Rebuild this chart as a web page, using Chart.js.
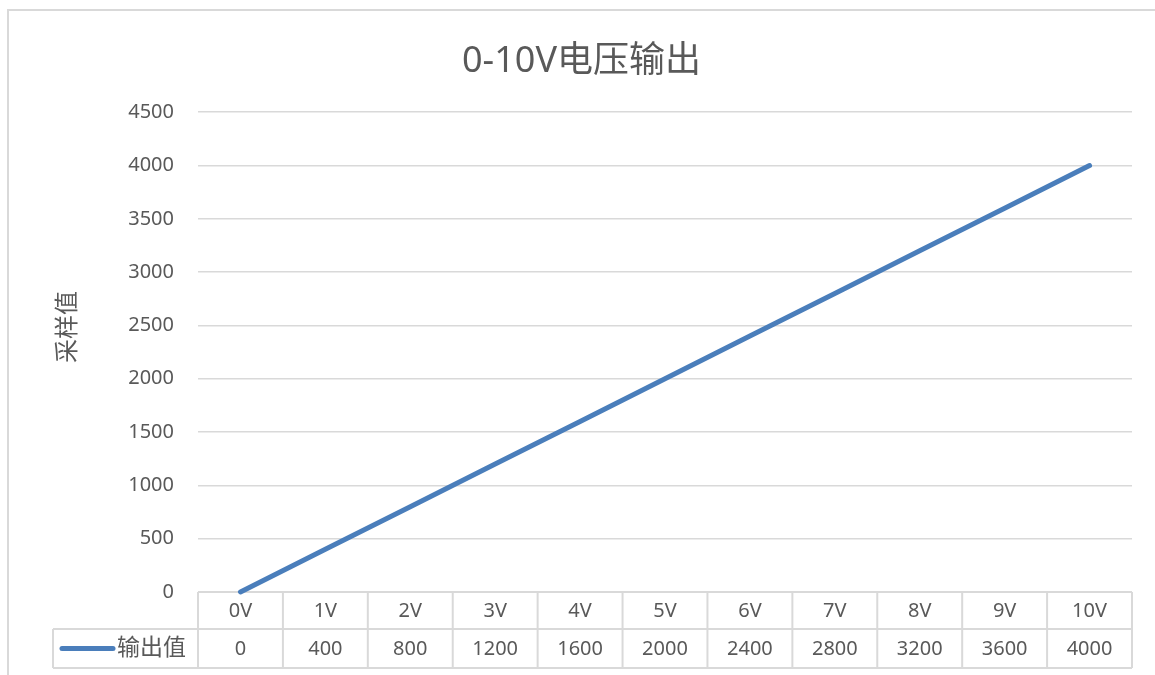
<!DOCTYPE html>
<html>
<head>
<meta charset="utf-8">
<script src="https://cdn.jsdelivr.net/npm/chart.js@4"></script>
<style>
  html, body { margin: 0; padding: 0; background: #ffffff; }
  #wrap { width: 1155px; height: 675px; }
</style>
</head>
<body>
<div id="wrap"><canvas id="chart" width="1155" height="675"></canvas></div>
<script>
// Input voltage steps and the sampled output for each
const categories = ['0V', '1V', '2V', '3V', '4V', '5V', '6V', '7V', '8V', '9V', '10V'];
const outputValues = [0, 400, 800, 1200, 1600, 2000, 2400, 2800, 3200, 3600, 4000];
const seriesName = '输出值';
const chartTitle = '0-10V电压输出';
const yAxisTitle = '采样值';
const yMin = 0, yMax = 4500, yStep = 500;

const FONT = "'Noto Sans', 'Noto Sans CJK SC', sans-serif";
const TEXT = '#595959';
const GRID = '#d9d9d9';
const LINE = '#4a7ebb';

// Outer frame of the chart object
const framePlugin = {
  id: 'frame',
  beforeDraw(chart) {
    const ctx = chart.ctx;
    ctx.save();
    ctx.strokeStyle = GRID;
    ctx.lineWidth = 2;
    ctx.beginPath();
    ctx.moveTo(8, 675);
    ctx.lineTo(8, 10);
    ctx.lineTo(1155, 10);
    ctx.stroke();
    ctx.restore();
  }
};

// Vertical axis caption
const yTitlePlugin = {
  id: 'yTitle',
  afterDraw(chart) {
    const ctx = chart.ctx;
    ctx.save();
    ctx.translate(68, 327);
    ctx.rotate(-Math.PI / 2);
    ctx.fillStyle = TEXT;
    ctx.font = '24px ' + FONT;
    ctx.textAlign = 'center';
    ctx.textBaseline = 'middle';
    ctx.fillText(yAxisTitle, 0, 0);
    ctx.restore();
  }
};

// Data table under the plot: category row, then legend key + values row
const tablePlugin = {
  id: 'dataTable',
  beforeDatasetsDraw(chart) {
    const { ctx, chartArea } = chart;
    const x = chart.scales.x;
    const n = categories.length;
    const colW = (chartArea.right - chartArea.left) / n;
    const top = chartArea.bottom;
    const mid = top + 37;
    const bot = mid + 39;
    const keyLeft = chartArea.left - 145;

    ctx.save();
    ctx.strokeStyle = GRID;
    ctx.lineWidth = 2;
    ctx.beginPath();
    // horizontal rules
    ctx.moveTo(chartArea.left, top); ctx.lineTo(chartArea.right, top);
    ctx.moveTo(keyLeft, mid); ctx.lineTo(chartArea.right, mid);
    ctx.moveTo(keyLeft, bot); ctx.lineTo(chartArea.right, bot);
    // vertical rules
    ctx.moveTo(keyLeft, mid); ctx.lineTo(keyLeft, bot);
    for (let i = 0; i <= n; i++) {
      const px = i < n ? x.getPixelForValue(i) - colW / 2 : x.getPixelForValue(n - 1) + colW / 2;
      ctx.moveTo(px, top); ctx.lineTo(px, bot);
    }
    ctx.stroke();

    ctx.fillStyle = TEXT;
    ctx.font = '20px ' + FONT;
    ctx.textAlign = 'center';
    ctx.textBaseline = 'middle';
    for (let i = 0; i < n; i++) {
      const cx = x.getPixelForValue(i);
      ctx.fillText(categories[i], cx, (top + mid) / 2 + 1);
      ctx.fillText(String(outputValues[i]), cx, (mid + bot) / 2 + 1);
    }

    // legend key
    const ds = chart.data.datasets[0];
    const ky = (mid + bot) / 2;
    ctx.strokeStyle = ds.borderColor;
    ctx.lineWidth = ds.borderWidth;
    ctx.lineCap = 'round';
    ctx.beginPath();
    ctx.moveTo(keyLeft + 9, ky);
    ctx.lineTo(keyLeft + 60, ky);
    ctx.stroke();
    ctx.font = '23px ' + FONT;
    ctx.textAlign = 'left';
    ctx.fillText(ds.label, keyLeft + 64, ky);
    ctx.restore();
  }
};

new Chart(document.getElementById('chart'), {
  type: 'line',
  data: {
    labels: categories,
    datasets: [{
      label: seriesName,
      data: outputValues,
      borderColor: LINE,
      backgroundColor: LINE,
      borderWidth: 5,
      borderCapStyle: 'round',
      pointRadius: 0,
      pointHoverRadius: 0,
      tension: 0,
      fill: false,
      clip: false
    }]
  },
  options: {
    responsive: false,
    animation: false,
    layout: { padding: { left: 8, top: 10, right: 0, bottom: 83 } },
    plugins: {
      legend: { display: false },
      tooltip: { enabled: false },
      title: {
        display: true,
        text: chartTitle,
        color: TEXT,
        font: { family: FONT, size: 36, weight: 'normal' },
        padding: { top: 30, bottom: 29 }
      }
    },
    scales: {
      x: {
        display: false,
        offset: true,
        grid: { display: false }
      },
      y: {
        min: yMin,
        max: yMax,
        afterFit(scale) { scale.width = 190; },
        border: { display: false },
        grid: { color: GRID, lineWidth: 1.5, drawTicks: false },
        ticks: {
          stepSize: yStep,
          padding: 24,
          color: TEXT,
          font: { family: FONT, size: 20 },
          callback: (v) => String(v)
        }
      },
      // empty right margin between the plot and the frame edge
      yRight: {
        position: 'right',
        min: yMin,
        max: yMax,
        afterFit(scale) { scale.width = 23; },
        border: { display: false },
        grid: { display: false, drawOnChartArea: false },
        ticks: { display: false }
      }
    }
  },
  plugins: [framePlugin, yTitlePlugin, tablePlugin]
});
</script>
</body>
</html>
